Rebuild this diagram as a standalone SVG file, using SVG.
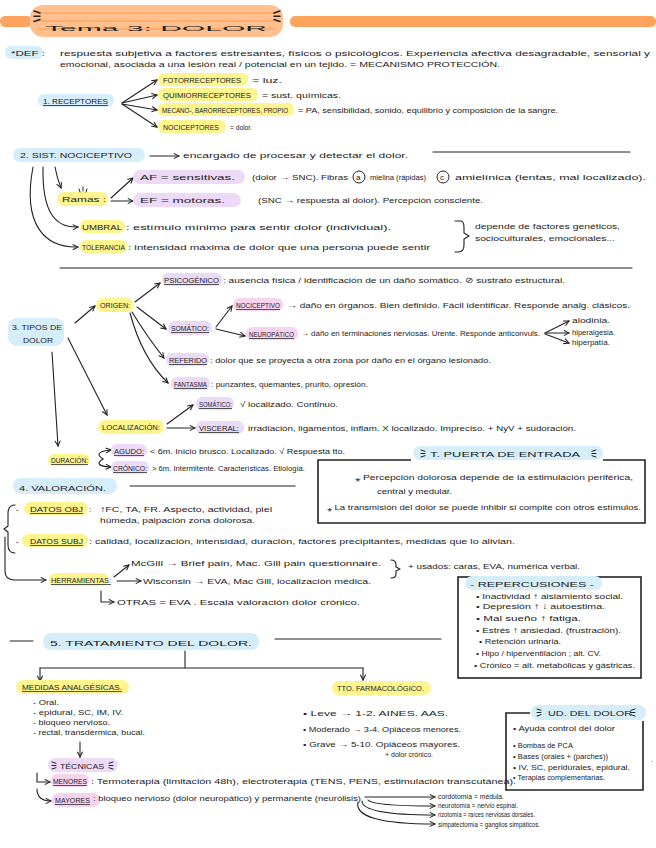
<svg xmlns="http://www.w3.org/2000/svg" xmlns:xlink="http://www.w3.org/1999/xlink" width="656" height="848" viewBox="0 0 656 848">
<style>
.t{font-family:"Liberation Sans",Arial,sans-serif;font-size:8px;fill:#222}
.s{font-size:7.5px}
.u{text-decoration:underline}
.hb{fill:#d5eefa}.hy{fill:#fff58f}.hp{fill:#ecdaf8}.hk{fill:#f8d3ef}
.c{fill:none;stroke:#222;stroke-width:1.1;stroke-linecap:round;stroke-linejoin:round}
.a{marker-end:url(#ar)}
.box{fill:none;stroke:#222;stroke-width:1.6}
.dc{fill:none;stroke:#222;stroke-width:1;stroke-linecap:round}
</style>
<defs>
<marker id="ar" viewBox="0 0 8 8" refX="7" refY="4" markerWidth="7" markerHeight="7" orient="auto" markerUnits="userSpaceOnUse"><path d="M1,1 L7,4 L1,7" fill="none" stroke="#222" stroke-width="1.2"/></marker>
<g id="deco"><path class="dc" d="M0,0 L4,1.3 M0,3.5 L4,3.5 M0,7 L4,5.7"/></g>
</defs>
<rect width="656" height="848" fill="#fff"/>

<g id="title">
<rect x="0" y="16" width="32" height="11" rx="5" fill="#ffa45e"/>
<rect x="290" y="16" width="366" height="11" rx="5" fill="#ffa45e"/>
<rect x="30" y="5" width="253" height="32" rx="13" fill="#ffc08f"/>
<path d="M38,13 H276 M36,21 H278 M38,29 H276" stroke="#ffac6c" stroke-width="2"/>
<use href="#deco" transform="translate(34,11) scale(1.5)"/>
<use href="#deco" transform="translate(280,11) scale(-1.5,1.5)"/>
<text class="t" x="45" y="31" font-size="31" textLength="222" lengthAdjust="spacingAndGlyphs">Tema 3: DOLOR</text>
</g>

<g id="def">
<rect class="hb" x="5" y="46" width="38" height="13" rx="6"/>
<text class="t" x="11" y="56" textLength="34" lengthAdjust="spacingAndGlyphs">*DEF :</text>
<text class="t" x="60" y="56" textLength="590" lengthAdjust="spacingAndGlyphs">respuesta subjetiva a factores estresantes, físicos o psicológicos. Experiencia afectiva desagradable, sensorial y</text>
<text class="t" x="60" y="67" textLength="440" lengthAdjust="spacingAndGlyphs">emocional, asociada a una lesión real / potencial en un tejido. = MECANISMO PROTECCIÓN.</text>
</g>

<g id="connectors">
<path class="c a" d="M122,103 L157,80"/>
<path class="c a" d="M122,103 L157,95"/>
<path class="c a" d="M122,104 L157,110"/>
<path class="c a" d="M122,104 L157,127"/>
<path class="c a" d="M150,156 L179,156"/>
<path class="c a" d="M55,167 Q57,178 61,188"/>
<path class="c a" d="M43,167 C42,212 55,228 78,227"/>
<path class="c a" d="M33,167 C22,225 45,248 78,247"/>
<path class="c a" d="M111,198 L133,178"/>
<path class="c a" d="M111,201 L133,201"/>
<path class="c" d="M455,221 L461,221 Q464,221 464,228 L464,233 L469,236 L464,239 L464,245 Q464,252 458,252 L455,252"/>
<path class="c a" d="M75,323 L95,306"/>
<path class="c a" d="M68,338 L107,415"/>
<path class="c a" d="M52,352 L58,446"/>
<path class="c a" d="M135,302 L160,283"/>
<path class="c a" d="M137,307 L166,329"/>
<path class="c a" d="M132,312 Q148,338 164,358"/>
<path class="c a" d="M130,313 Q142,358 168,383"/>
<path class="c a" d="M216,327 L232,306"/>
<path class="c a" d="M216,329 L245,336"/>
<path class="c a" d="M545,333 L569,321"/>
<path class="c a" d="M545,333 L569,333"/>
<path class="c a" d="M545,334 L569,343"/>
<path class="c a" d="M167,424 L193,405"/>
<path class="c a" d="M167,428 L195,428"/>
<path class="c a" d="M103,459 Q92,452 111,450"/>
<path class="c a" d="M103,459 Q92,466 111,467"/>
<path class="c" d="M15,505 Q8,505 8,514 L8,526 L4,529 L8,532 L8,545 Q8,553 15,553"/>
<path class="c a" d="M5,537 L5,571 Q5,580 15,580 L46,580"/>
<path class="c a" d="M114,577 L129,565"/>
<path class="c a" d="M117,581 L141,581"/>
<path class="c a" d="M101,591 L101,602 L114,602"/>
<path class="c" d="M391,560 Q396,560 396,565 L396,567 L400,569 L396,571 L396,574 Q396,578 391,578"/>
<path class="c" d="M10,641 L33,641 M275,639 L441,639"/>
<path class="c" d="M185,651 L185,668 M40,668 L363,668"/>
<path class="c a" d="M40,668 L40,681"/>
<path class="c a" d="M363,668 L363,680"/>
<path class="c a" d="M80,742 L80,757"/>
<path class="c a" d="M37,773 L37,782 L50,782"/>
<path class="c a" d="M37,789 Q37,801 51,801"/>
<path class="c a" d="M365,797 L435,797"/>
<path class="c a" d="M368,800 Q372,806 435,806"/>
<path class="c a" d="M362,801 Q362,815 435,815"/>
<path class="c a" d="M358,802 Q353,824 435,824"/>
</g>

<g id="receptores">
<rect class="hb" x="38" y="94" width="76" height="13" rx="6"/>
<text class="t u" x="43" y="104" textLength="65" lengthAdjust="spacingAndGlyphs">1. RECEPTORES</text>
</g>
<g id="fotorreceptores">
<rect class="hy" x="158" y="73" width="90" height="13" rx="6"/>
<text class="t s" x="163" y="83" textLength="78" lengthAdjust="spacingAndGlyphs">FOTORRECEPTORES</text>
<text class="t" x="252" y="83" textLength="30" lengthAdjust="spacingAndGlyphs">= luz.</text>
</g>
<g id="quimiorreceptores">
<rect class="hy" x="158" y="88" width="100" height="13" rx="6"/>
<text class="t s" x="163" y="98" textLength="88" lengthAdjust="spacingAndGlyphs">QUIMIORRECEPTORES</text>
<text class="t" x="262" y="98" textLength="79" lengthAdjust="spacingAndGlyphs">= sust. químicas.</text>
</g>
<g id="mecanorreceptores">
<rect class="hy" x="158" y="103" width="136" height="13" rx="6"/>
<text class="t s" x="162" y="113" textLength="126" lengthAdjust="spacingAndGlyphs">MECANO-, BARORRECEPTORES, PROPIO</text>
<text class="t" x="298" y="113" textLength="260" lengthAdjust="spacingAndGlyphs">= PA, sensibilidad, sonido, equilibrio y composición de la sangre.</text>
</g>
<g id="nociceptores">
<rect class="hy" x="158" y="120" width="68" height="13" rx="6"/>
<text class="t s" x="163" y="130" textLength="56" lengthAdjust="spacingAndGlyphs">NOCICEPTORES</text>
<text class="t" x="230" y="130" textLength="22" lengthAdjust="spacingAndGlyphs">= dolor.</text>
</g>

<g id="sistema">
<rect class="hb" x="13" y="148" width="132" height="14" rx="7"/>
<text class="t" x="20" y="158" font-size="9" textLength="112" lengthAdjust="spacingAndGlyphs">2. SIST. NOCICEPTIVO</text>
<text class="t" x="183" y="158" textLength="225" lengthAdjust="spacingAndGlyphs">encargado de procesar y detectar el dolor.</text>
<path class="c" d="M433,152 L630,152"/>
</g>
<g id="ramas">
<rect class="hy" x="57" y="192" width="51" height="14" rx="7"/>
<path class="dc" d="M79,189 L80,192 M83,187 L83,191 M87,189 L86,192"/>
<text class="t" x="62" y="202" textLength="44" lengthAdjust="spacingAndGlyphs">Ramas :</text>
</g>
<g id="af">
<rect class="hp" x="133" y="170" width="112" height="14" rx="7"/>
<text class="t" x="140" y="180" textLength="95" lengthAdjust="spacingAndGlyphs">AF = sensitivas.</text>
<text class="t" x="252" y="180" textLength="96" lengthAdjust="spacingAndGlyphs">(dolor → SNC). Fibras</text>
<circle cx="359" cy="177" r="6" fill="none" stroke="#222" stroke-width="1"/>
<text class="t" x="356" y="180">a</text>
<text class="t" x="370" y="180" textLength="56" lengthAdjust="spacingAndGlyphs">mielina (rápidas)</text>
<circle cx="443" cy="177" r="6" fill="none" stroke="#222" stroke-width="1"/>
<text class="t" x="440" y="180">c</text>
<text class="t" x="455" y="180" textLength="191" lengthAdjust="spacingAndGlyphs">amielínica (lentas, mal localizado).</text>
</g>
<g id="ef">
<rect class="hp" x="133" y="193" width="108" height="14" rx="7"/>
<text class="t" x="140" y="203" textLength="85" lengthAdjust="spacingAndGlyphs">EF = motoras.</text>
<text class="t" x="258" y="203" textLength="225" lengthAdjust="spacingAndGlyphs">(SNC → respuesta al dolor). Percepción consciente.</text>
</g>
<g id="umbral">
<rect class="hy" x="80" y="220" width="45" height="13" rx="6"/>
<text class="t s" x="82" y="230" textLength="40" lengthAdjust="spacingAndGlyphs">UMBRAL</text>
<text class="t" x="126" y="230" textLength="265" lengthAdjust="spacingAndGlyphs">: estímulo mínimo para sentir dolor (individual).</text>
</g>
<g id="tolerancia">
<rect class="hy" x="80" y="240" width="47" height="13" rx="6"/>
<text class="t s" x="82" y="250" textLength="43" lengthAdjust="spacingAndGlyphs">TOLERANCIA</text>
<text class="t" x="128" y="250" textLength="302" lengthAdjust="spacingAndGlyphs">: intensidad máxima de dolor que una persona puede sentir</text>
</g>
<g id="factores">
<text class="t" x="475" y="229" textLength="145" lengthAdjust="spacingAndGlyphs">depende de factores genéticos,</text>
<text class="t" x="475" y="241" textLength="140" lengthAdjust="spacingAndGlyphs">socioculturales, emocionales...</text>
</g>
<path class="c" d="M60,268 L632,268"/>

<g id="tipos">
<rect class="hb" x="8" y="318" width="56" height="28" rx="9"/>
<text class="t" x="12" y="330" textLength="50" lengthAdjust="spacingAndGlyphs">3. TIPOS DE</text>
<text class="t" x="23" y="343" textLength="30" lengthAdjust="spacingAndGlyphs">DOLOR</text>
</g>
<g id="origen">
<rect class="hy" x="96" y="298" width="38" height="14" rx="7"/>
<text class="t s" x="100" y="308" textLength="30" lengthAdjust="spacingAndGlyphs">ORIGEN:</text>
</g>
<g id="psicogenico">
<rect class="hp" x="162" y="273" width="60" height="13" rx="6"/>
<text class="t s u" x="164" y="283" textLength="55" lengthAdjust="spacingAndGlyphs">PSICOGÉNICO</text>
<text class="t" x="223" y="283" textLength="342" lengthAdjust="spacingAndGlyphs">: ausencia física / identificación de un daño somático. ⊘ sustrato estructural.</text>
</g>
<g id="somatico">
<rect class="hp" x="168" y="321" width="44" height="14" rx="7"/>
<text class="t s u" x="171" y="331" textLength="38" lengthAdjust="spacingAndGlyphs">SOMÁTICO:</text>
</g>
<g id="nociceptivo">
<rect class="hk" x="233" y="298" width="50" height="13" rx="6"/>
<text class="t s u" x="236" y="308" textLength="44" lengthAdjust="spacingAndGlyphs">NOCICEPTIVO</text>
<text class="t" x="287" y="308" textLength="343" lengthAdjust="spacingAndGlyphs">→ daño en órganos. Bien definido. Fácil identificar. Responde analg. clásicos.</text>
</g>
<g id="neuropatico">
<rect class="hk" x="246" y="327" width="52" height="13" rx="6"/>
<text class="t s u" x="249" y="337" textLength="45" lengthAdjust="spacingAndGlyphs">NEUROPÁTICO</text>
<text class="t" x="301" y="336" textLength="239" lengthAdjust="spacingAndGlyphs">→ daño en terminaciones nerviosas. Urente. Responde anticonvuls.</text>
<text class="t" x="572" y="323" textLength="38" lengthAdjust="spacingAndGlyphs">alodinia.</text>
<text class="t" x="572" y="335" textLength="43" lengthAdjust="spacingAndGlyphs">hiperalgesia.</text>
<text class="t" x="572" y="345" textLength="38" lengthAdjust="spacingAndGlyphs">hiperpatía.</text>
</g>
<g id="referido">
<rect class="hp" x="166" y="353" width="43" height="13" rx="6"/>
<text class="t s u" x="169" y="363" textLength="38" lengthAdjust="spacingAndGlyphs">REFERIDO</text>
<text class="t" x="210" y="363" textLength="281" lengthAdjust="spacingAndGlyphs">: dolor que se proyecta a otra zona por daño en el órgano lesionado.</text>
</g>
<g id="fantasma">
<rect class="hp" x="171" y="377" width="39" height="13" rx="6"/>
<text class="t s u" x="174" y="387" textLength="33" lengthAdjust="spacingAndGlyphs">FANTASMA</text>
<text class="t" x="211" y="387" textLength="157" lengthAdjust="spacingAndGlyphs">: punzantes, quemantes, prurito, opresión.</text>
</g>
<g id="localizacion">
<rect class="hy" x="98" y="420" width="66" height="14" rx="7"/>
<text class="t s" x="102" y="430" textLength="58" lengthAdjust="spacingAndGlyphs">LOCALIZACIÓN:</text>
</g>
<g id="somatico-loc">
<rect class="hp" x="196" y="397" width="38" height="13" rx="6"/>
<text class="t s u" x="199" y="407" textLength="33" lengthAdjust="spacingAndGlyphs">SOMÁTICO:</text>
<text class="t" x="240" y="407" textLength="98" lengthAdjust="spacingAndGlyphs">√ localizado. Continuo.</text>
</g>
<g id="visceral">
<rect class="hp" x="196" y="421" width="48" height="13" rx="6"/>
<text class="t s u" x="199" y="431" textLength="40" lengthAdjust="spacingAndGlyphs">VISCERAL:</text>
<text class="t" x="248" y="431" textLength="328" lengthAdjust="spacingAndGlyphs">irradiación, ligamentos, inflam. X localizado. Impreciso. + NyV + sudoración.</text>
</g>
<g id="duracion">
<rect class="hy" x="48" y="454" width="42" height="12" rx="6"/>
<text class="t s u" x="51" y="463" textLength="37" lengthAdjust="spacingAndGlyphs">DURACIÓN:</text>
</g>
<g id="agudo">
<rect class="hp" x="111" y="444" width="36" height="13" rx="6"/>
<text class="t s u" x="114" y="454" textLength="30" lengthAdjust="spacingAndGlyphs">AGUDO:</text>
<text class="t" x="150" y="454" textLength="195" lengthAdjust="spacingAndGlyphs">&lt; 6m. Inicio brusco. Localizado. √ Respuesta tto.</text>
</g>
<g id="cronico">
<rect class="hp" x="111" y="461" width="38" height="13" rx="6"/>
<text class="t s u" x="113" y="471" textLength="34" lengthAdjust="spacingAndGlyphs">CRÓNICO:</text>
<text class="t" x="152" y="471" textLength="153" lengthAdjust="spacingAndGlyphs">&gt; 6m. Intermitente. Características. Etiología.</text>
</g>

<g id="puerta-entrada">
<path class="box" d="M411,460 L318,460 L318,523 L645,523 L645,460 L603,460"/>
<rect class="hb" x="413" y="446" width="190" height="14" rx="7"/>
<use href="#deco" transform="translate(421,450) scale(1)"/>
<use href="#deco" transform="translate(596,450) scale(-1,1)"/>
<text class="t" x="430" y="457" font-size="10" textLength="150" lengthAdjust="spacingAndGlyphs">T. PUERTA DE ENTRADA</text>
<text class="t" x="355" y="480" textLength="278" lengthAdjust="spacingAndGlyphs">⁎ Percepción dolorosa depende de la estimulación periférica,</text>
<text class="t" x="377" y="494" textLength="75" lengthAdjust="spacingAndGlyphs">central y medular.</text>
<text class="t" x="327" y="510" textLength="314" lengthAdjust="spacingAndGlyphs">⁎ La transmisión del dolor se puede inhibir si compite con otros estímulos.</text>
</g>

<g id="valoracion">
<rect class="hb" x="13" y="478" width="104" height="16" rx="8"/>
<text class="t" x="19" y="491" font-size="11" textLength="87" lengthAdjust="spacingAndGlyphs">4. VALORACIÓN.</text>
<path class="c" d="M130,486 L295,486"/>
</g>
<g id="datos-obj">
<rect class="hy" x="24" y="502" width="64" height="13" rx="6"/>
<text class="t" x="16" y="512">-</text>
<text class="t s u" x="30" y="512" textLength="53" lengthAdjust="spacingAndGlyphs">DATOS OBJ</text>
<text class="t" x="89" y="512">:</text>
<text class="t" x="100" y="512" textLength="172" lengthAdjust="spacingAndGlyphs">↑FC, TA, FR. Aspecto, actividad, piel</text>
<text class="t" x="100" y="523" textLength="155" lengthAdjust="spacingAndGlyphs">húmeda, palpación zona dolorosa.</text>
</g>
<g id="datos-subj">
<rect class="hy" x="22" y="534" width="66" height="13" rx="6"/>
<text class="t" x="16" y="544">-</text>
<text class="t s u" x="30" y="544" textLength="53" lengthAdjust="spacingAndGlyphs">DATOS SUBJ</text>
<text class="t" x="89" y="544" textLength="426" lengthAdjust="spacingAndGlyphs">: calidad, localización, intensidad, duración, factores precipitantes, medidas que lo alivian.</text>
</g>
<g id="herramientas">
<rect class="hy" x="49" y="573" width="59" height="13" rx="6"/>
<text class="t s u" x="51" y="583" textLength="60" lengthAdjust="spacingAndGlyphs">HERRAMIENTAS:</text>
<text class="t" x="131" y="566" textLength="250" lengthAdjust="spacingAndGlyphs">McGill → Brief pain, Mac. Gill pain questionnaire.</text>
<text class="t" x="143" y="584" textLength="228" lengthAdjust="spacingAndGlyphs">Wisconsin → EVA, Mac Gill, localización médica.</text>
<text class="t" x="117" y="605" textLength="243" lengthAdjust="spacingAndGlyphs">OTRAS = EVA . Escala valoración dolor crónico.</text>
<text class="t" x="408" y="569" textLength="172" lengthAdjust="spacingAndGlyphs">+ usados: caras, EVA, numérica verbal.</text>
</g>

<g id="repercusiones">
<rect class="box" x="458" y="577" width="183" height="101"/>
<rect class="hb" x="465" y="576" width="137" height="14" rx="7"/>
<text class="t" x="470" y="587" font-size="10" textLength="124" lengthAdjust="spacingAndGlyphs">- REPERCUSIONES -</text>
<text class="t" x="476" y="599" textLength="147" lengthAdjust="spacingAndGlyphs">• Inactividad ↑ aislamiento social.</text>
<text class="t" x="476" y="609" textLength="129" lengthAdjust="spacingAndGlyphs">• Depresión ↑ ↓ autoestima.</text>
<text class="t" x="476" y="621" textLength="105" lengthAdjust="spacingAndGlyphs">• Mal sueño ↑ fatiga.</text>
<text class="t" x="476" y="633" textLength="145" lengthAdjust="spacingAndGlyphs">• Estrés ↑ ansiedad. (frustración).</text>
<text class="t" x="479" y="644" textLength="82" lengthAdjust="spacingAndGlyphs">• Retención urinaria.</text>
<text class="t" x="476" y="656" textLength="125" lengthAdjust="spacingAndGlyphs">• Hipo / hiperventilación ; alt. CV.</text>
<text class="t" x="474" y="668" textLength="161" lengthAdjust="spacingAndGlyphs">• Crónico = alt. metabólicas y gástricas.</text>
</g>

<g id="tratamiento">
<rect class="hb" x="43" y="633" width="216" height="17" rx="8"/>
<text class="t" x="50" y="646" font-size="12" textLength="202" lengthAdjust="spacingAndGlyphs">5. TRATAMIENTO DEL DOLOR.</text>
</g>
<g id="medidas">
<rect class="hy" x="16" y="680" width="113" height="14" rx="7"/>
<text class="t s u" x="22" y="690" textLength="100" lengthAdjust="spacingAndGlyphs">MEDIDAS ANALGÉSICAS.</text>
<text class="t" x="33" y="705" textLength="26" lengthAdjust="spacingAndGlyphs">- Oral.</text>
<text class="t" x="33" y="715" textLength="90" lengthAdjust="spacingAndGlyphs">- epidural, SC, IM, IV.</text>
<text class="t" x="33" y="725" textLength="77" lengthAdjust="spacingAndGlyphs">- bloqueo nervioso.</text>
<text class="t" x="33" y="735" textLength="112" lengthAdjust="spacingAndGlyphs">- rectal, transdérmica, bucal.</text>
</g>
<g id="tecnicas">
<rect class="hp" x="48" y="758" width="70" height="14" rx="7"/>
<use href="#deco" transform="translate(52,762) scale(1)"/>
<use href="#deco" transform="translate(113,762) scale(-1,1)"/>
<text class="t" x="60" y="769" textLength="44" lengthAdjust="spacingAndGlyphs">TÉCNICAS</text>
</g>
<g id="menores">
<rect class="hk" x="51" y="774" width="38" height="13" rx="6"/>
<text class="t s u" x="53" y="784" textLength="34" lengthAdjust="spacingAndGlyphs">MENORES</text>
<text class="t" x="91" y="784" textLength="425" lengthAdjust="spacingAndGlyphs">: Termoterapia (limitación 48h), electroterapia (TENS, PENS, estimulación transcutánea).</text>
</g>
<g id="mayores">
<rect class="hk" x="52" y="793" width="48" height="14" rx="7"/>
<text class="t s u" x="55" y="803" textLength="35" lengthAdjust="spacingAndGlyphs">MAYORES</text>
<text class="t" x="93" y="801" textLength="268" lengthAdjust="spacingAndGlyphs">: bloqueo nervioso (dolor neuropático) y permanente (neurólisis)</text>
<text class="t" x="438" y="799" textLength="66" lengthAdjust="spacingAndGlyphs">cordotomía = médula.</text>
<text class="t" x="438" y="808" textLength="80" lengthAdjust="spacingAndGlyphs">neurotomía = nervio espinal.</text>
<text class="t" x="438" y="817" textLength="97" lengthAdjust="spacingAndGlyphs">rizotomía = raíces nerviosas dorsales.</text>
<text class="t" x="438" y="827" textLength="102" lengthAdjust="spacingAndGlyphs">simpatectomía = ganglios simpáticos.</text>
</g>
<g id="farmacologico">
<rect class="hy" x="332" y="681" width="99" height="14" rx="7"/>
<text class="t s" x="337" y="691" textLength="87" lengthAdjust="spacingAndGlyphs">TTO. FARMACOLÓGICO.</text>
<text class="t" x="303" y="716" textLength="145" lengthAdjust="spacingAndGlyphs">• Leve → 1-2. AINES. AAS.</text>
<text class="t" x="303" y="732" textLength="158" lengthAdjust="spacingAndGlyphs">• Moderado → 3-4. Opiáceos menores.</text>
<text class="t" x="303" y="747" textLength="157" lengthAdjust="spacingAndGlyphs">• Grave → 5-10. Opiáceos mayores.</text>
<text class="t" x="385" y="757" textLength="48" lengthAdjust="spacingAndGlyphs">+ dolor crónico.</text>
</g>
<g id="ud-dolor">
<path class="box" d="M530,713 L506,713 L506,790 L643,790 L643,721"/>
<rect class="hb" x="531" y="705" width="115" height="15" rx="7"/>
<use href="#deco" transform="translate(537,709) scale(1)"/>
<use href="#deco" transform="translate(635,709) scale(-1,1)"/>
<text class="t" x="548" y="716" font-size="10" textLength="84" lengthAdjust="spacingAndGlyphs">UD. DEL DOLOR</text>
<text class="t" x="513" y="731" textLength="102" lengthAdjust="spacingAndGlyphs">• Ayuda control del dolor</text>
<text class="t" x="513" y="748" textLength="60" lengthAdjust="spacingAndGlyphs">• Bombas de PCA</text>
<text class="t" x="513" y="759" textLength="95" lengthAdjust="spacingAndGlyphs">• Bases (orales + (parches))</text>
<text class="t" x="513" y="770" textLength="117" lengthAdjust="spacingAndGlyphs">• IV, SC, peridurales, epidural.</text>
<text class="t" x="513" y="780" textLength="92" lengthAdjust="spacingAndGlyphs">• Terapias complementarias.</text>
<text class="t" x="651" y="762">.</text>
</g>
</svg>
